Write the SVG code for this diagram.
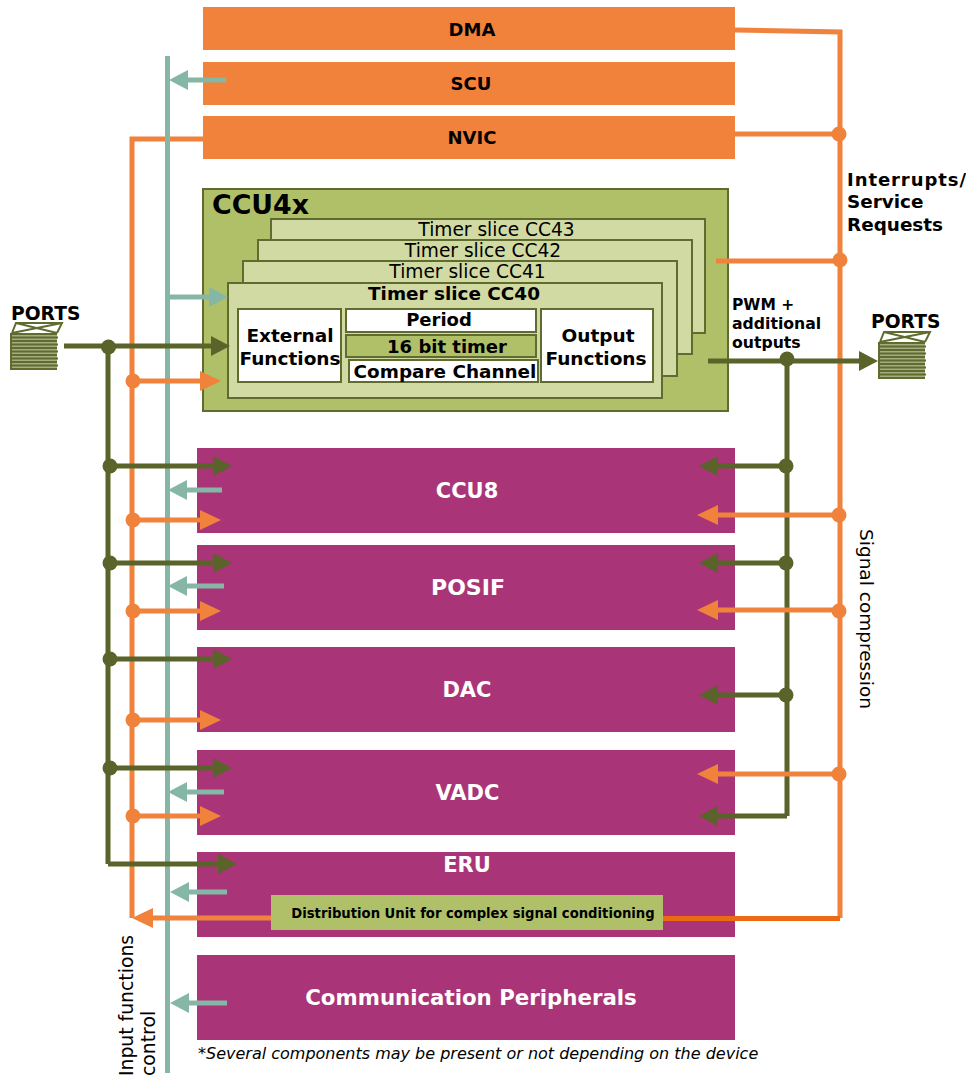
<svg xmlns="http://www.w3.org/2000/svg" xmlns:xlink="http://www.w3.org/1999/xlink" width="966" height="1077" viewBox="0 0 966 1077">
<style>
text{font-family:"DejaVu Sans","Liberation Sans",sans-serif;fill:#000}
.b{font-weight:bold}.m{text-anchor:middle}
.or{fill:#F0823C}.mg{fill:#A93578}
.sl{fill:#D1DAA3;stroke:#5F6B2F;stroke-width:2}
.wh{fill:#fff;stroke:#5F6B2F;stroke-width:2}
.w{fill:#fff;font-weight:bold;text-anchor:middle;font-size:21px}
.lo{stroke:#F0823C;stroke-width:5;fill:none}
.lg{stroke:#5A6329;stroke-width:5;fill:none}
.lt{stroke:#86B6A6;stroke-width:5;fill:none}
.ao{marker-end:url(#ao)}.ag{marker-end:url(#ag)}.at{marker-end:url(#at)}
.do{fill:#F0823C}.dg{fill:#5A6329}
.p{stroke:#5F6B2F;fill:none}
</style>
<defs>
<marker id="ao" markerUnits="userSpaceOnUse" markerWidth="22" markerHeight="24" refX="0" refY="12" orient="auto"><path d="M0 2L21 12L0 22Z" fill="#F0823C"/></marker>
<marker id="ag" markerUnits="userSpaceOnUse" markerWidth="22" markerHeight="24" refX="0" refY="12" orient="auto"><path d="M0 2L19 12L0 22Z" fill="#5A6329"/></marker>
<marker id="at" markerUnits="userSpaceOnUse" markerWidth="22" markerHeight="24" refX="0" refY="12" orient="auto"><path d="M0 2L19 12L0 22Z" fill="#86B6A6"/></marker>
<g id="stack">
<path class="p" stroke-width="2" d="M1 10L5 0H51L46 10M5 0L46 10M51 0L1 10"/>
<rect x="0" y="10" width="46" height="37" fill="#A5AD80"/>
<path class="p" stroke-width="2" d="M0 11H46M0 14.500H47M0 18H46M0 21.500H47M0 25H46M0 28.500H47M0 32H46M0 35.500H47M0 39H46M0 42.500H47M0 46H46M0 10V47"/>
</g>
</defs>

<g id="dma"><rect class="or" x="203" y="7" width="532" height="43"/><text class="b m" x="472" y="36" font-size="18">DMA</text></g>
<g id="scu"><rect class="or" x="203" y="62" width="532" height="43"/><text class="b m" x="471" y="90" font-size="18">SCU</text></g>
<g id="nvic"><rect class="or" x="203" y="116" width="532" height="43"/><text class="b m" x="472" y="144" font-size="18">NVIC</text></g>

<g id="ccu4x">
<rect x="203" y="189" width="525" height="222" fill="#AFC068" stroke="#5F6B2F" stroke-width="2"/>
<text class="b" x="212" y="214" font-size="26.800">CCU4x</text>
<g id="cc43"><rect class="sl" x="271" y="219" width="434" height="114"/><text class="m" x="496.500" y="236" font-size="18.600">Timer slice CC43</text></g>
<g id="cc42"><rect class="sl" x="258" y="240" width="434" height="114"/><text class="m" x="483" y="257" font-size="18.600">Timer slice CC42</text></g>
<g id="cc41"><rect class="sl" x="243" y="261" width="434" height="115"/><text class="m" x="467.500" y="278" font-size="18.600">Timer slice CC41</text></g>
<g id="cc40"><rect class="sl" x="228" y="283" width="434" height="115"/><text class="b m" x="454" y="300" font-size="18.400">Timer slice CC40</text></g>
<g id="external"><rect class="wh" x="238" y="309" width="103" height="73"/><text class="b m" x="290" y="342" font-size="18.500">External</text><text class="b m" x="290" y="365" font-size="18.500">Functions</text></g>
<g id="period"><rect class="wh" x="346" y="309" width="190" height="23"/><text class="b m" x="439" y="326" font-size="18">Period</text></g>
<g id="timer16"><rect x="346" y="335" width="190" height="22" fill="#AFC068" stroke="#5F6B2F" stroke-width="2"/><text class="b m" x="447" y="353" font-size="18">16 bit timer</text></g>
<g id="compare"><rect class="wh" x="349" y="360" width="189" height="22"/><text class="b m" x="445" y="378" font-size="18.400">Compare Channel</text></g>
<g id="output"><rect class="wh" x="541" y="309" width="112" height="73"/><text class="b m" x="598" y="342" font-size="18.500">Output</text><text class="b m" x="596" y="365" font-size="18.500">Functions</text></g>
</g>

<g id="ccu8"><rect class="mg" x="197" y="448" width="538" height="85"/><text class="w" x="467" y="498">CCU8</text></g>
<g id="posif"><rect class="mg" x="197" y="545" width="538" height="85"/><text class="w" x="468" y="595" font-size="22" style="font-size:22px">POSIF</text></g>
<g id="dac"><rect class="mg" x="197" y="647" width="538" height="85"/><text class="w" x="467" y="697">DAC</text></g>
<g id="vadc"><rect class="mg" x="197" y="750" width="538" height="85"/><text class="w" x="467.500" y="800">VADC</text></g>
<g id="eru"><rect class="mg" x="197" y="852" width="538" height="85"/><text class="w" x="467" y="872">ERU</text></g>
<g id="comm"><rect class="mg" x="197" y="955" width="538" height="85"/><text class="w" x="471" y="1005" style="font-size:21.300px">Communication Peripherals</text></g>

<g id="connectors">
<path class="lo" d="M735 30L840 32V918"/>
<path class="lo" d="M735 134H840M716 261H840"/>
<path class="lo" d="M203 139H132V918"/>
<path class="lg" d="M108 346V864M787 360V816"/>
<path class="lt" d="M167.500 56V1073"/>
<path class="lg ag" d="M64 346H211"/>
<path class="lg ag" d="M708 361H859"/>
<path class="lt at" d="M167 297H209"/>
<path class="lt at" d="M226 80H188"/>
<path class="lt at" d="M222 490H187"/>
<path class="lt at" d="M224 586H187"/>
<path class="lt at" d="M224 792H187"/>
<path class="lt at" d="M227 892H189"/>
<path class="lt at" d="M227 1003H189"/>
<path class="lg ag" d="M108 466H213"/>
<path class="lg ag" d="M108 563H213"/>
<path class="lg ag" d="M108 659H213"/>
<path class="lg ag" d="M108 768H213"/>
<path class="lg ag" d="M108 864H218"/>
<path class="lo ao" d="M132 381H200"/>
<path class="lo ao" d="M132 520H200"/>
<path class="lo ao" d="M132 611H200"/>
<path class="lo ao" d="M132 720H200"/>
<path class="lo ao" d="M132 816H200"/>
<path class="lg ag" d="M787 466H718"/>
<path class="lg ag" d="M787 563H718"/>
<path class="lg ag" d="M787 695H718"/>
<path class="lg ag" d="M787 816H718"/>
<path class="lo ao" d="M840 515H718"/>
<path class="lo ao" d="M840 610H718"/>
<path class="lo ao" d="M840 774H718"/>
<path class="lo ao" d="M271 918H153"/>
<path d="M663 918.500H840" fill="none" stroke="#EC6A14" stroke-width="5"/>
<g class="dg"><circle cx="108.500" cy="347" r="7.500"/><circle cx="110" cy="466" r="7.500"/><circle cx="110" cy="563" r="7.500"/><circle cx="110" cy="659" r="7.500"/><circle cx="110" cy="768" r="7.500"/><circle cx="787" cy="359" r="7.500"/><circle cx="786" cy="466" r="7.500"/><circle cx="786" cy="563" r="7.500"/><circle cx="786" cy="695" r="7.500"/></g>
<g class="do"><circle cx="133" cy="381" r="7.500"/><circle cx="133" cy="520" r="7.500"/><circle cx="133" cy="611" r="7.500"/><circle cx="133" cy="720" r="7.500"/><circle cx="133" cy="816" r="7.500"/><circle cx="839" cy="134" r="7.500"/><circle cx="840" cy="260" r="7.500"/><circle cx="839" cy="515" r="7.500"/><circle cx="839" cy="611" r="7.500"/><circle cx="839" cy="774" r="7.500"/></g>
</g>

<g id="distribution"><rect x="271" y="895" width="392" height="35" fill="#AFC068"/><text class="b m" x="473" y="918" font-size="13.200">Distribution Unit for complex signal conditioning</text></g>

<g id="ports-left"><text class="b" x="11" y="320" font-size="18.700">PORTS</text><use xlink:href="#stack" x="11" y="323"/></g>
<g id="ports-right"><text class="b" x="871" y="328" font-size="18.700">PORTS</text><use xlink:href="#stack" x="879" y="332"/></g>

<g id="labels">
<text class="b" x="847" y="186" font-size="18" textLength="119" lengthAdjust="spacing">Interrupts/</text>
<text class="b" x="847" y="208" font-size="18.400">Service</text>
<text class="b" x="847" y="231" font-size="18.400">Requests</text>
<text class="b" x="732" y="310" font-size="15.500">PWM +</text>
<text class="b" x="732" y="329" font-size="15.700">additional</text>
<text class="b" x="732" y="348" font-size="15.700">outputs</text>
<text transform="translate(860 529) rotate(90)" font-size="18.500">Signal compression</text>
<text transform="translate(133 1076) rotate(-90)" font-size="18.800">Input functions</text>
<text transform="translate(155 1076) rotate(-90)" font-size="18.800">control</text>
<text x="198" y="1059" font-size="16" font-style="italic">*Several components may be present or not depending on the device</text>
</g>
</svg>
